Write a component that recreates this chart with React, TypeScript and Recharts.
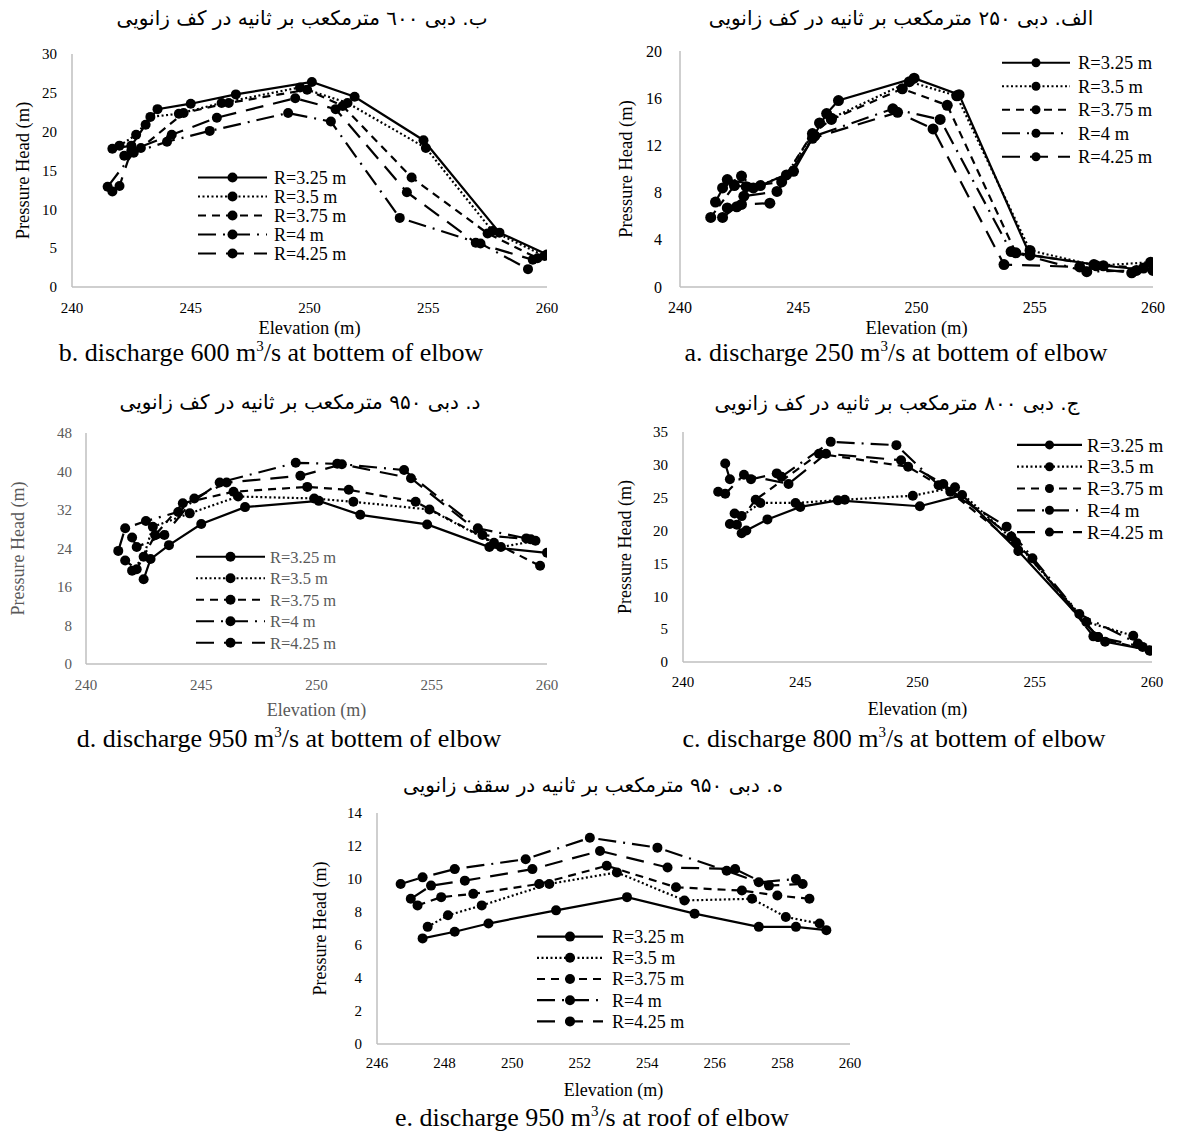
import React from "react";
import { LineChart, Line, XAxis, YAxis } from "recharts";

const SERIF = "'Liberation Serif', 'Times New Roman', serif";
const PERSIAN = "'DejaVu Sans', sans-serif";
const AXIS = "#bfbfbf";

const SERIES_NAMES = ["R=3.25 m", "R=3.5 m", "R=3.75 m", "R=4 m", "R=4.25 m"];
const DASHES = ["", "2 2.5", "8 6", "18 7 2 7", "18 10"];

// a. discharge 250, bottom of elbow
const a325 = [[241.5, 7.2], [242.0, 9.1], [243.4, 8.6], [244.8, 9.8], [246.2, 14.7], [246.7, 15.8], [249.9, 17.7], [251.8, 16.3], [254.8, 2.7], [257.9, 1.8], [260.0, 1.4]];
const a35 = [[241.8, 8.4], [242.6, 9.4], [243.1, 8.4], [244.5, 9.5], [245.9, 13.9], [246.4, 14.3], [249.7, 17.4], [251.7, 16.2], [254.8, 3.1], [257.6, 1.8], [259.9, 2.1]];
const a375 = [[241.3, 5.9], [242.3, 8.6], [242.8, 8.5], [244.3, 8.9], [245.6, 13.0], [246.4, 14.2], [249.4, 16.8], [251.3, 15.4], [254.2, 2.9], [257.5, 1.9], [259.6, 1.6]];
const a4 = [[241.8, 5.9], [242.4, 6.8], [242.7, 7.7], [244.1, 8.1], [245.7, 12.8], [249.0, 15.1], [251.0, 14.2], [254.0, 3.0], [257.2, 1.3], [259.3, 1.4]];
const a425 = [[242.0, 6.7], [242.6, 7.0], [243.8, 7.1], [245.6, 12.6], [249.2, 14.8], [250.7, 13.4], [253.7, 1.9], [256.9, 1.7], [259.1, 1.2]];

// b. discharge 600, bottom of elbow
const b325 = [[241.7, 17.8], [242.5, 18.2], [243.1, 20.9], [243.6, 22.9], [245.0, 23.6], [246.9, 24.8], [250.1, 26.4], [251.9, 24.5], [254.8, 18.9], [258.0, 7.0], [260.0, 4.2]];
const b35 = [[242.0, 18.2], [242.7, 19.6], [243.3, 21.9], [244.5, 22.3], [246.3, 23.7], [249.6, 25.7], [251.6, 23.7], [254.9, 17.9], [257.7, 7.2], [259.9, 4.0]];
const b375 = [[242.2, 16.9], [242.9, 17.9], [244.7, 22.4], [246.6, 23.7], [249.9, 25.4], [251.4, 23.3], [254.3, 14.1], [257.5, 6.9], [259.6, 3.7]];
const b4 = [[241.5, 12.9], [242.6, 17.3], [244.0, 18.7], [245.8, 20.1], [249.1, 22.4], [250.9, 21.3], [253.8, 8.9], [257.2, 5.6], [259.2, 2.3]];
const b425 = [[241.7, 12.3], [242.0, 13.0], [242.5, 17.6], [244.2, 19.6], [246.1, 21.8], [249.4, 24.3], [251.1, 22.9], [254.1, 12.2], [257.0, 5.7], [259.4, 3.5]];

// c. discharge 800, bottom of elbow
const c325 = [[242.5, 19.6], [242.7, 20.0], [243.6, 21.7], [245.0, 23.6], [246.6, 24.6], [250.1, 23.7], [251.9, 25.4], [254.3, 16.9], [257.7, 3.8], [258.0, 3.1], [259.9, 1.8]];
const c35 = [[242.2, 22.6], [242.5, 22.2], [243.3, 24.2], [244.8, 24.2], [246.9, 24.7], [249.8, 25.3], [251.6, 26.6], [254.2, 18.2], [257.2, 6.1], [259.2, 4.0]];
const c375 = [[242.0, 21.0], [242.3, 20.9], [243.1, 24.7], [245.8, 31.7], [249.6, 29.7], [251.4, 25.9], [254.9, 15.8], [257.5, 3.9], [259.9, 1.7]];
const c4 = [[241.8, 30.2], [242.0, 27.8], [242.9, 27.8], [244.0, 28.7], [244.2, 28.2], [246.3, 33.5], [249.1, 33.0], [250.9, 26.9], [253.8, 20.6], [256.9, 7.3], [259.4, 2.8]];
const c425 = [[241.5, 25.9], [241.8, 25.6], [242.6, 28.5], [244.5, 27.1], [246.1, 31.7], [249.3, 30.7], [251.1, 27.1], [254.0, 19.1], [257.7, 3.8], [259.6, 2.3]];

// d. discharge 950, bottom of elbow
const d325 = [[242.5, 17.6], [242.8, 21.8], [243.6, 24.7], [245.0, 29.1], [246.9, 32.6], [250.1, 33.9], [251.9, 31.0], [254.8, 29.0], [257.5, 24.3], [260.0, 23.1]];
const d35 = [[242.0, 19.4], [242.5, 22.3], [242.9, 28.5], [244.5, 31.3], [246.6, 34.8], [249.9, 34.4], [251.6, 33.7], [254.9, 32.1], [258.0, 24.3], [259.5, 25.6]];
const d375 = [[241.7, 21.5], [242.2, 19.7], [243.0, 26.8], [244.2, 33.4], [246.4, 35.8], [249.6, 36.8], [251.4, 36.2], [254.3, 33.7], [257.7, 25.2], [259.7, 20.4]];
const d4 = [[241.4, 23.5], [241.7, 28.2], [242.6, 29.7], [244.0, 31.6], [245.8, 37.7], [249.1, 41.8], [250.9, 41.6], [253.8, 40.3], [257.0, 28.2], [259.1, 26.1]];
const d425 = [[242.0, 26.3], [242.2, 24.3], [243.4, 26.8], [244.7, 34.4], [246.1, 37.7], [249.3, 39.1], [251.1, 41.5], [254.1, 38.6], [257.2, 26.8], [259.3, 25.9]];

// e. discharge 950, roof of elbow
const e325 = [[247.35, 6.4], [248.3, 6.8], [249.3, 7.3], [251.3, 8.1], [253.4, 8.9], [255.4, 7.9], [257.3, 7.1], [258.4, 7.1], [259.3, 6.9]];
const e35 = [[247.5, 7.1], [248.1, 7.8], [249.1, 8.4], [251.1, 9.7], [253.1, 10.4], [255.1, 8.7], [257.1, 8.8], [258.1, 7.7], [259.1, 7.3]];
const e375 = [[247.2, 8.4], [247.9, 8.9], [248.85, 9.1], [250.8, 9.7], [252.8, 10.8], [254.85, 9.5], [256.8, 9.3], [257.85, 9.0], [258.8, 8.8]];
const e4 = [[246.7, 9.7], [247.35, 10.1], [248.3, 10.6], [250.4, 11.2], [252.3, 12.5], [254.3, 11.9], [256.35, 10.5], [257.3, 9.8], [258.4, 10.0]];
const e425 = [[247.0, 8.8], [247.6, 9.6], [248.6, 9.9], [250.6, 10.6], [252.6, 11.7], [254.6, 10.7], [256.6, 10.6], [257.6, 9.6], [258.6, 9.7]];

const X_TICKS_BOTTOM = [240, 245, 250, 255, 260];
const X_TICKS_ROOF = [246, 248, 250, 252, 254, 256, 258, 260];
const Y_TICKS_A = [0, 4, 8, 12, 16, 20];
const Y_TICKS_B = [0, 5, 10, 15, 20, 25, 30];
const Y_TICKS_C = [0, 5, 10, 15, 20, 25, 30, 35];
const Y_TICKS_D = [0, 8, 16, 24, 32, 40, 48];
const Y_TICKS_E = [0, 2, 4, 6, 8, 10, 12, 14];

type Legend = { x: number; y: number; rowH: number; lineW: number; textX: number; font: number; dotR: number };
type Cfg = {
  series: number[][][];
  plotL: number; plotT: number; plotW: number; plotH: number;
  xDomain: [number, number]; xTicks: number[];
  yMax: number; yTicks: number[];
  tickFont: number; titleFont: number; color: string;
  yTickGap: number; xTickY: number; xTitleY: number; yTitleX: number;
  dotR: number; legend: Legend;
  title: string; titleX: number; titleY: number;
  caption: string; tail: string; capX: number; capY: number;
};

const panels: Cfg[] = [
  {
    series: [b325, b35, b375, b4, b425],
    plotL: 72, plotT: 54, plotW: 475, plotH: 233,
    xDomain: [240, 260], xTicks: X_TICKS_BOTTOM, yMax: 30, yTicks: Y_TICKS_B,
    tickFont: 15, titleFont: 18.5, color: "#000",
    yTickGap: 15, xTickY: 308, xTitleY: 328, yTitleX: 22, dotR: 5,
    legend: { x: 198, y: 177, rowH: 19, lineW: 69, textX: 274, font: 18, dotR: 5 },
    title: "ب. دبی ٦٠٠ مترمکعب بر ثانیه در کف زانویی", titleX: 302, titleY: 18,
    caption: "b. discharge 600 m", tail: "/s at bottem of elbow", capX: 271, capY: 353,
  },
  {
    series: [a325, a35, a375, a4, a425],
    plotL: 680, plotT: 51, plotW: 473, plotH: 236,
    xDomain: [240, 260], xTicks: X_TICKS_BOTTOM, yMax: 20, yTicks: Y_TICKS_A,
    tickFont: 16, titleFont: 18.5, color: "#000",
    yTickGap: 18, xTickY: 307, xTitleY: 328, yTitleX: 625, dotR: 5.5,
    legend: { x: 1002, y: 63, rowH: 23.5, lineW: 68, textX: 1078, font: 18.5, dotR: 4.5 },
    title: "الف. دبی ۲۵۰ مترمکعب بر ثانیه در کف زانویی", titleX: 901, titleY: 18,
    caption: "a. discharge 250 m", tail: "/s at bottem of elbow", capX: 896, capY: 353,
  },
  {
    series: [d325, d35, d375, d4, d425],
    plotL: 86, plotT: 433, plotW: 461, plotH: 231,
    xDomain: [240, 260], xTicks: X_TICKS_BOTTOM, yMax: 48, yTicks: Y_TICKS_D,
    tickFont: 15, titleFont: 18, color: "#595959",
    yTickGap: 14, xTickY: 685, xTitleY: 710, yTitleX: 18, dotR: 5,
    legend: { x: 196, y: 557, rowH: 21.5, lineW: 69, textX: 270, font: 16.5, dotR: 5 },
    title: "د. دبی ۹۵۰ مترمکعب بر ثانیه در کف زانویی", titleX: 300, titleY: 402,
    caption: "d. discharge 950 m", tail: "/s at bottem of elbow", capX: 289, capY: 739,
  },
  {
    series: [c325, c35, c375, c4, c425],
    plotL: 683, plotT: 432, plotW: 469, plotH: 230,
    xDomain: [240, 260], xTicks: X_TICKS_BOTTOM, yMax: 35, yTicks: Y_TICKS_C,
    tickFont: 15, titleFont: 18, color: "#000",
    yTickGap: 15, xTickY: 682, xTitleY: 709, yTitleX: 625, dotR: 5,
    legend: { x: 1017, y: 445, rowH: 21.8, lineW: 65, textX: 1087, font: 19, dotR: 4.5 },
    title: "ج. دبی ۸۰۰ مترمکعب بر ثانیه در کف زانویی", titleX: 897, titleY: 403,
    caption: "c. discharge 800 m", tail: "/s at bottem of elbow", capX: 894, capY: 739,
  },
  {
    series: [e325, e35, e375, e4, e425],
    plotL: 377, plotT: 813, plotW: 473, plotH: 231,
    xDomain: [246, 260], xTicks: X_TICKS_ROOF, yMax: 14, yTicks: Y_TICKS_E,
    tickFont: 15, titleFont: 18, color: "#000",
    yTickGap: 15, xTickY: 1063, xTitleY: 1090, yTitleX: 320, dotR: 5,
    legend: { x: 537, y: 937, rowH: 21.2, lineW: 66, textX: 612, font: 18, dotR: 5 },
    title: "ه. دبی ۹۵۰ مترمکعب بر ثانیه در سقف زانویی", titleX: 593, titleY: 785,
    caption: "e. discharge 950 m", tail: "/s at roof of elbow", capX: 592, capY: 1118,
  },
];

const toPts = (arr: number[][]) => arr.map(([x, y]) => ({ x, y }));

function LegendBox({ lg, color }: { lg: Legend; color: string }) {
  const w = lg.textX - lg.x + 90;
  const h = lg.rowH * 5 + 10;
  return (
    <svg style={{ position: "absolute", left: lg.x, top: lg.y - lg.rowH / 2 - 5 }} width={w} height={h}>
      {SERIES_NAMES.map((name, i) => {
        const cy = lg.rowH / 2 + 5 + i * lg.rowH;
        return (
          <g key={name}>
            <line x1={0} x2={lg.lineW} y1={cy} y2={cy} stroke="#000" strokeWidth={2.2} strokeDasharray={DASHES[i] || undefined} />
            <circle cx={lg.lineW / 2} cy={cy} r={lg.dotR} fill="#000" />
            <text x={lg.textX - lg.x} y={cy} dy="0.35em" fontSize={lg.font} fontFamily={SERIF} fill={color}>{name}</text>
          </g>
        );
      })}
    </svg>
  );
}

function Panel({ c }: { c: Cfg }) {
  const YW = 84, XH = 60, MT = 10, MR = 12;
  const left = c.plotL - YW;
  const top = c.plotT - MT;
  const bottom = c.plotT + c.plotH;
  const tickStyle = { fontSize: c.tickFont, fill: c.color, fontFamily: SERIF };
  return (
    <>
      <div style={{ position: "absolute", left: c.titleX, top: c.titleY, transform: "translate(-50%, -50%)", whiteSpace: "nowrap", direction: "rtl", fontFamily: PERSIAN, fontSize: 20, color: "#000" }}>
        {c.title}
      </div>
      <div style={{ position: "absolute", left, top }}>
        <LineChart width={YW + c.plotW + MR} height={MT + c.plotH + XH} margin={{ top: MT, right: MR, left: 0, bottom: 0 }}>
          <XAxis
            dataKey="x"
            type="number"
            domain={c.xDomain}
            ticks={c.xTicks}
            allowDataOverflow
            height={XH}
            axisLine={{ stroke: AXIS, strokeWidth: 1.5 }}
            tickLine={false}
            tickSize={0}
            tickMargin={c.xTickY - bottom - 0.36 * c.tickFont}
            tick={tickStyle}
            label={{ value: "Elevation (m)", position: "insideBottom", offset: bottom + XH - c.xTitleY - 0.35 * c.titleFont, fill: c.color, fontSize: c.titleFont, fontFamily: SERIF }}
          />
          <YAxis
            type="number"
            domain={[0, c.yMax]}
            ticks={c.yTicks}
            allowDataOverflow
            width={YW}
            axisLine={{ stroke: AXIS, strokeWidth: 1.5 }}
            tickLine={false}
            tickSize={0}
            tickMargin={c.yTickGap}
            tick={tickStyle}
            label={{ value: "Pressure Head (m)", angle: -90, position: "insideLeft", offset: c.yTitleX - left, fill: c.color, fontSize: c.titleFont, fontFamily: SERIF, style: { textAnchor: "middle" } }}
          />
          {c.series.map((s, i) => (
            <Line
              key={SERIES_NAMES[i]}
              name={SERIES_NAMES[i]}
              data={toPts(s)}
              dataKey="y"
              type="linear"
              stroke="#000"
              strokeWidth={2.2}
              strokeDasharray={DASHES[i] || undefined}
              dot={{ r: c.dotR, fill: "#000", stroke: "none" }}
              activeDot={false}
              isAnimationActive={false}
            />
          ))}
        </LineChart>
      </div>
      <LegendBox lg={c.legend} color={c.color} />
      <div style={{ position: "absolute", left: c.capX, top: c.capY, transform: "translate(-50%, -50%)", whiteSpace: "nowrap", fontFamily: SERIF, fontSize: 26, lineHeight: "26px", color: "#000" }}>
        {c.caption}
        <sup style={{ fontSize: 15, lineHeight: 0 }}>3</sup>
        {c.tail}
      </div>
    </>
  );
}

export default function App() {
  return (
    <div style={{ position: "absolute", left: 0, top: 0, width: 1178, height: 1133, background: "#fff", overflow: "hidden" }}>
      {panels.map((c, i) => (
        <Panel key={i} c={c} />
      ))}
    </div>
  );
}
